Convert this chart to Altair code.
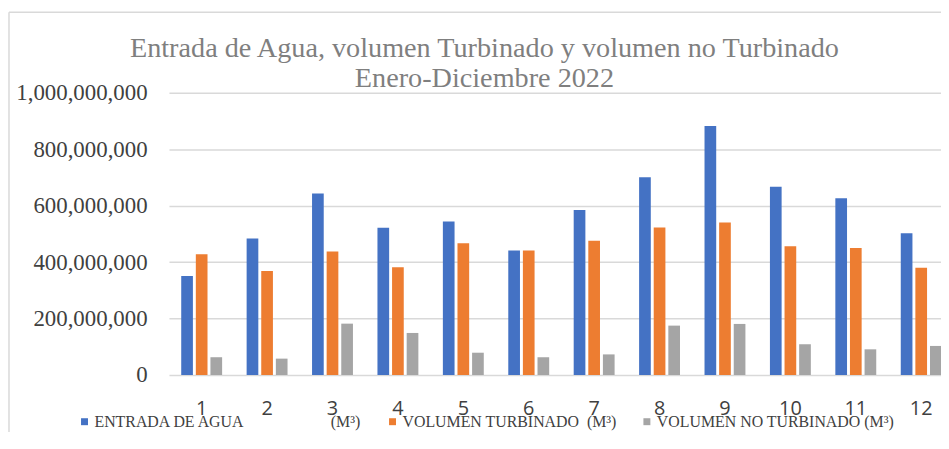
import altair as alt
import pandas as pd

months = list(range(1, 13))
series = [
    "ENTRADA DE AGUA" + "\u00a0" * 22 + "(M³)",
    "VOLUMEN TURBINADO\u00a0\u00a0(M³)",
    "VOLUMEN NO TURBINADO (M³)",
]
colors = ["#4472C4", "#ED7D31", "#A5A5A5"]

entrada = [351e6, 484e6, 643e6, 522e6, 544e6, 441e6, 585e6, 701e6, 882e6, 667e6, 626e6, 502e6]
turbinado = [428e6, 369e6, 438e6, 382e6, 467e6, 441e6, 476e6, 523e6, 540e6, 456e6, 450e6, 380e6]
no_turbinado = [63e6, 58e6, 182e6, 149e6, 79e6, 63e6, 73e6, 175e6, 181e6, 109e6, 91e6, 103e6]

y_ticks = [0, 200e6, 400e6, 600e6, 800e6, 1000e6]

rows = []
for s, vals in zip(series, [entrada, turbinado, no_turbinado]):
    for m, v in zip(months, vals):
        rows.append({"Mes": m, "Serie": s, "Valor": v})
df = pd.DataFrame(rows)

bars = alt.Chart(df).mark_bar().encode(
    x=alt.X(
        "Mes:O",
        scale=alt.Scale(range=[0, 790], paddingInner=0.33, paddingOuter=0.165),
        axis=alt.Axis(
            title=None, labelAngle=0, ticks=False, domain=False,
            labelFont="Open Sans", labelFontSize=20, labelColor="#404040",
            labelPadding=24,
        ),
    ),
    xOffset=alt.XOffset("Serie:N", sort=series,
                        scale=alt.Scale(paddingInner=0.2, paddingOuter=0.1)),
    y=alt.Y(
        "Valor:Q",
        scale=alt.Scale(domain=[0, 1e9]),
        axis=alt.Axis(
            title=None, values=y_ticks, format=",d", ticks=False, domain=False,
            labelFont="Liberation Serif", labelFontSize=23, labelColor="#404040",
            labelPadding=22, gridColor="#d9d9d9", gridWidth=1.5,
        ),
    ),
    color=alt.Color(
        "Serie:N", sort=series,
        scale=alt.Scale(domain=series, range=colors),
        legend=alt.Legend(
            title=None, orient="none", direction="horizontal", columns=3,
            legendX=-93, legendY=323, symbolType="square", symbolSize=49,
            symbolStrokeWidth=0, labelFont="Liberation Serif", labelFontSize=16,
            labelColor="#404040", labelOffset=2, columnPadding=22, labelLimit=0,
        ),
    ),
)

one = pd.DataFrame({"k": [0]})
top_border = alt.Chart(one).mark_rule(color="#d9d9d9", strokeWidth=1.5).encode(
    x=alt.value(-161), x2=alt.value(800), y=alt.value(-81)
)
left_border = alt.Chart(one).mark_rule(color="#d9d9d9", strokeWidth=1.5).encode(
    x=alt.value(-161), y=alt.value(-81), y2=alt.value(400)
)

chart = alt.layer(top_border, left_border, bars).properties(
    width=777,
    height=284,
    autosize=alt.AutoSizeParams(type="none"),
    padding={"left": 162, "top": 84, "right": 0, "bottom": 56},
    title=alt.TitleParams(
        ["Entrada de Agua, volumen Turbinado y volumen no Turbinado", "Enero-Diciembre 2022"],
        font="Liberation Serif", fontSize=28.4, fontWeight="normal", color="#7f7f7f",
        anchor="middle", lineHeight=30, dx=-71, dy=104, offset=0, baseline="alphabetic",
    ),
).configure_view(stroke=None)

chart.save("out.html", embed_options={"renderer": "svg", "actions": False})
